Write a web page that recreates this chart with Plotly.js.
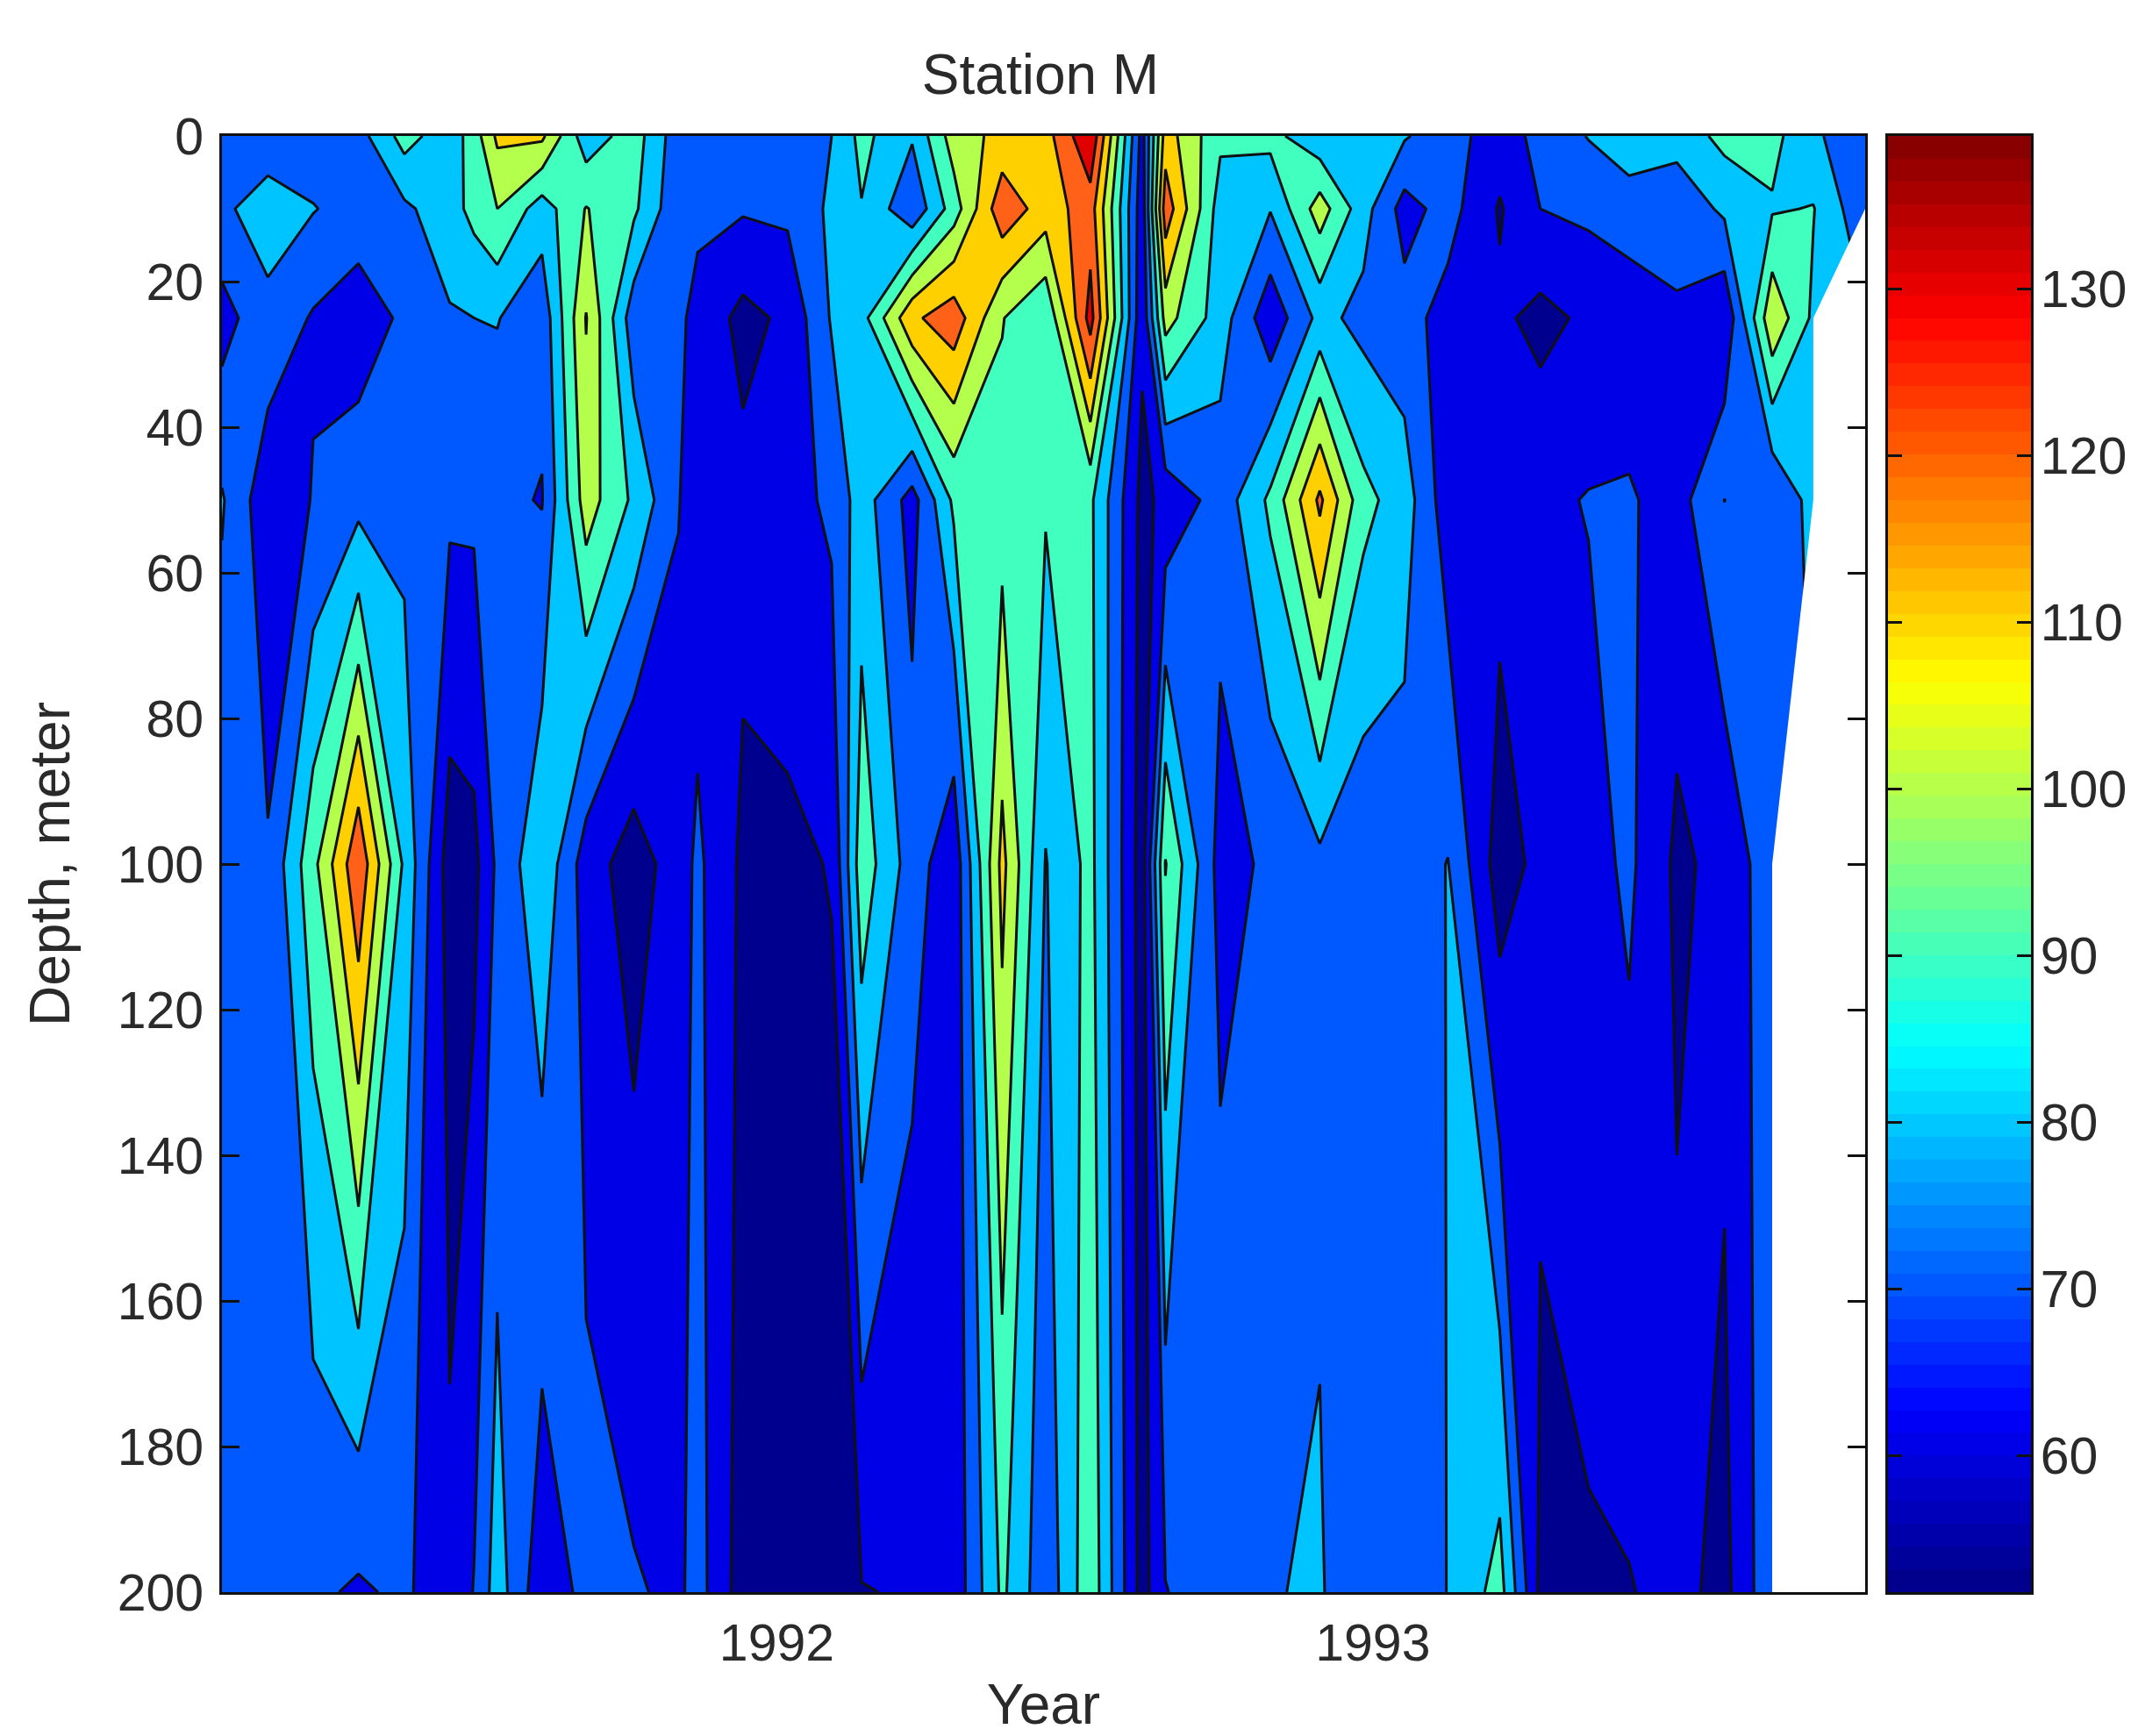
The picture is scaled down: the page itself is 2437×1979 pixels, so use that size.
<!DOCTYPE html>
<html>
<head>
<meta charset="utf-8">
<script src="https://cdn.plot.ly/plotly-3.0.1.min.js"></script>
<style>html,body{margin:0;padding:0;background:#fff}#chart{width:2437px;height:1979px}</style>
</head>
<body>
<div id="chart"></div>
<script>
const depths = [0, 10, 25, 50, 100, 200];
const times = [1991.069,1991.146,1991.222,1991.298,1991.375,1991.451,1991.492,1991.531,1991.606,1991.680,1991.760,1991.835,1991.867,1991.943,1992.018,1992.092,1992.142,1992.227,1992.297,1992.378,1992.451,1992.526,1992.613,1992.652,1992.744,1992.828,1992.911,1992.984,1993.053,1993.126,1993.213,1993.281,1993.362,1993.430,1993.510,1993.590,1993.670,1993.739,1993.826];
const at0   = [75,74,74,76,94,84,95,112,112,84,95,74,72,72,72,80,93,81,105,113,116,139,66,115,92,93,83,82,81,74,65,73,80.5,86,84,93,93,82,72];
const at10  = [78,85,80.5,76,78,86,93,100,85,100.5,92,72,72,71,72,82,89.5,72,95,127,115,125,64,126,85,80.5,105,84,66,74,59,70,72,75,73,82,89,90.5,72];
const at25  = [66,77,69,64,72,79,80,80.5,73,110.5,74,72,67,57,62,81,86,118,126,100.5,91,134,62,104,85,63,83,77,74,66,62,57,62,64,69,61,108,88,null];
const at50  = [81,63,70.5,77,77,72,72,72,69.5,105,88,70.5,64,63,66,72,85,66,92,96,91,92,57,63,74,92,122,93,85,64,64,68,70.5,71,66,80.1,70,84,null];
const at100 = [72,71,97,128,88,55,57,72,88,65,55,65,72,58,58,60.5,96,75,63,113,79.5,93,55,100.5,66,72,77.5,73,75,80.3,55,63,66,72,58,63,76,null,null];
const at200 = [72,72,72,68.5,72,62,70.5,85,63,73,71,68,74,55,54,54,59.5,61,63,92,73,97,56,69.5,78,79.5,81,72,72,80.3,94,57.5,59,59.5,63,57,78,null,null];

const bandColors = ['#00008f','#0000e6','#0058ff','#00c4ff','#40ffbf','#b4ff4b','#ffd000','#ff6118','#e00000'];
const gapTimes  = [1993.826,1993.739,1993.739,1993.670,1993.670,1993.826];
const gapDepths = [10,25,50,100,200,200];
const yearTicks = [1992,1993];
const depthTicks = [0,20,40,60,80,100,120,140,160,180,200];
const barTicks = [60,70,80,90,100,110,120,130];
const barRange = [51.8,139.2];
const jet = [[0,'#000084'],[0.125,'#0000ff'],[0.375,'#00ffff'],[0.625,'#ffff00'],[0.875,'#ff0000'],[1,'#800000']];

const W = 2437, H = 1979;
const font = {family:'"Liberation Sans", Arial, sans-serif', size:59, color:'#2a2a2a'};
const titleFont = {family:font.family, size:64, color:'#2a2a2a'};

const barY = [], barZ = [];
for (let i = 0; i < 64; i++) {
  const v = barRange[0] + (i + 0.5) * (barRange[1] - barRange[0]) / 64;
  barY.push(v); barZ.push([v]);
}

const traces = [
  {type:'contour', x:times, y:depths, z:[at0,at10,at25,at50,at100,at200],
   autocontour:false, connectgaps:true,
   contours:{start:60,end:130,size:10,coloring:'fill',showlines:true},
   line:{color:'#101010',width:3,smoothing:0},
   colorscale:bandColors.map((c,i)=>[i/(bandColors.length-1),c]),
   showscale:false, hoverinfo:'skip'},
  {type:'scatter', x:gapTimes, y:gapDepths, mode:'lines', fill:'toself',
   fillcolor:'#ffffff', line:{width:0,color:'#ffffff'}, hoverinfo:'skip', showlegend:false},
  {type:'heatmap', x:[0], y:barY, z:barZ, xaxis:'x2', yaxis:'y2',
   colorscale:jet, zmin:barRange[0], zmax:barRange[1], showscale:false, hoverinfo:'skip'}
];

const axisLine = {showline:true, linecolor:'#111', linewidth:3, showgrid:false, zeroline:false};
const layout = {
  width:W, height:H, showlegend:false, paper_bgcolor:'#fff', plot_bgcolor:'#fff', font:font,
  margin:{l:0,r:0,t:0,b:0,pad:0},
  title:{text:'Station M', font:titleFont, x:1186/W, xref:'paper', xanchor:'center', y:1-85/H, yref:'paper', yanchor:'middle'},
  xaxis:Object.assign({}, axisLine, {domain:[253/W,2126/W], range:[1991.069,1993.826], anchor:'y',
    tickmode:'array', tickvals:yearTicks, ticktext:yearTicks.map(String), ticks:'inside', ticklen:0, mirror:true,
    ticklabelstandoff:4, title:{text:'Year', font:titleFont, standoff:28}}),
  yaxis:Object.assign({}, axisLine, {domain:[1-1815/H,1-155/H], range:[200,0], anchor:'x',
    tickmode:'array', tickvals:depthTicks, ticktext:depthTicks.map(String), ticks:'inside', ticklen:20, tickwidth:3, tickcolor:'#111', mirror:'ticks',
    ticklabelstandoff:6, title:{text:'Depth, meter', font:titleFont, standoff:34}}),
  xaxis2:Object.assign({}, axisLine, {domain:[2152/W,2315/W], range:[-0.5,0.5], anchor:'y2', showticklabels:false, ticks:'', mirror:true}),
  yaxis2:Object.assign({}, axisLine, {domain:[1-1815/H,1-155/H], range:barRange, anchor:'x2', side:'right',
    tickmode:'array', tickvals:barTicks, ticktext:barTicks.map(String), ticks:'inside', ticklen:16, tickwidth:3, tickcolor:'#111', mirror:'ticks', ticklabelstandoff:-4})
};
Plotly.newPlot('chart', traces, layout, {displayModeBar:false, staticPlot:true});
</script>
</body>
</html>
